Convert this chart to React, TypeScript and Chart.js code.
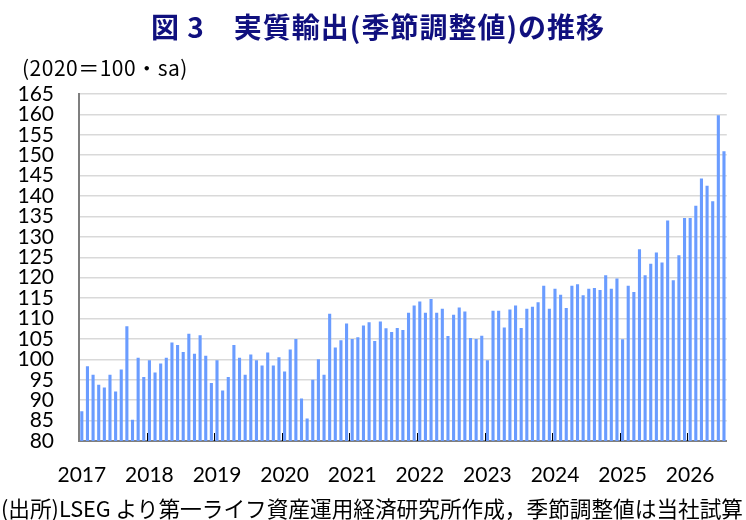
import { useEffect, useRef } from 'react';
import { Chart, registerables } from 'chart.js';

Chart.register(...registerables);

// ---- data ----
const years = ['2017', '2018', '2019', '2020', '2021', '2022', '2023', '2024', '2025', '2026'];
const v2017 = [87.3, 98.3, 96.2, 93.8, 93.1, 96.2, 92.1, 97.5, 108.1, 85.2, 100.4, 95.7];
const v2018 = [99.8, 96.8, 99.0, 100.4, 104.1, 103.5, 101.8, 106.3, 101.4, 105.9, 100.9, 94.2];
const v2019 = [99.8, 92.4, 95.7, 103.5, 100.4, 96.2, 101.2, 99.8, 98.5, 101.7, 98.5, 100.5];
const v2020 = [97.0, 102.4, 105.0, 90.4, 85.5, 95.0, 100.0, 96.2, 111.2, 102.9, 104.7, 108.8];
const v2021 = [105.0, 105.4, 108.3, 109.1, 104.5, 109.3, 107.6, 106.7, 107.7, 107.2, 111.4, 113.2];
const v2022 = [114.2, 111.4, 114.8, 111.4, 112.4, 105.7, 110.9, 112.7, 111.7, 105.2, 105.0, 105.8];
const v2023 = [99.8, 111.9, 111.9, 107.8, 112.2, 113.2, 107.7, 112.4, 112.9, 114.0, 118.0, 112.4];
const v2024 = [117.3, 115.8, 112.6, 118.0, 118.4, 115.7, 117.3, 117.5, 117.0, 120.6, 117.3, 119.8];
const v2025 = [104.9, 118.0, 116.5, 127.0, 120.6, 123.4, 126.2, 123.7, 134.0, 119.4, 125.5, 134.6];
const v2026 = [134.6, 137.6, 144.3, 142.5, 138.7, 159.8, 151.0];

const seriesByYear = [v2017, v2018, v2019, v2020, v2021, v2022, v2023, v2024, v2025, v2026];
const categories = seriesByYear.flatMap((arr, yi) =>
  arr.map((_, mi) => `${years[yi]}-${String(mi + 1).padStart(2, '0')}`)
);
const values = seriesByYear.flat();

const yMin = 80;
const yMax = 165;
const yStep = 5;

const TITLE = '図 3\u3000実質輸出(季節調整値)の推移';
const UNIT = '(2020＝100・sa)';
const SOURCE = '(出所)LSEG より第一ライフ資産運用経済研究所作成，季節調整値は当社試算';

const yearTicks = {
  id: 'yearTicks',
  afterDatasetsDraw(chart: any) {
    const xs = chart.scales.x;
    const { ctx, chartArea } = chart;
    ctx.save();
    ctx.strokeStyle = '#000000';
    ctx.lineWidth = 1;
    for (let i = 12; i < categories.length; i += 12) {
      const px = Math.round((xs.getPixelForValue(i - 1) + xs.getPixelForValue(i)) / 2) + 0.5;
      ctx.beginPath();
      ctx.moveTo(px, chartArea.bottom);
      ctx.lineTo(px, chartArea.bottom - 8);
      ctx.stroke();
    }
    ctx.restore();
  },
};

export default function App() {
  const canvasRef = useRef<HTMLCanvasElement | null>(null);
  const footRef = useRef<HTMLDivElement | null>(null);

  useEffect(() => {
    document.body.style.margin = '0';
    const foot = footRef.current;
    if (foot) {
      const w = foot.scrollWidth;
      if (w > 0) foot.style.transform = `scaleX(${742 / w})`;
    }
    const canvas = canvasRef.current;
    if (!canvas) return;
    const chart = new Chart(canvas, {
      type: 'bar',
      data: {
        labels: categories,
        datasets: [
          {
            data: values,
            backgroundColor: '#6a9cff',
            borderWidth: 0,
            barPercentage: 0.55,
            categoryPercentage: 1,
          },
        ],
      },
      plugins: [yearTicks],
      options: {
        responsive: false,
        animation: false,
        devicePixelRatio: 1,
        layout: { padding: { top: 94, right: 5, bottom: 0, left: 0 } },
        plugins: {
          legend: { display: false },
          tooltip: { enabled: false },
          title: { display: false },
        },
        scales: {
          x: {
            grid: { display: false, drawTicks: false },
            border: { display: true, color: '#7f7f7f', width: 2 },
            ticks: {
              autoSkip: false,
              maxRotation: 0,
              minRotation: 0,
              padding: 22,
              color: '#000000',
              font: { family: 'Lato', size: 21 },
              callback: (_v: any, index: number) => (index % 12 === 0 ? years[index / 12] : ''),
            },
            afterFit: (scale: any) => {
              scale.height = 79;
            },
          },
          y: {
            min: yMin,
            max: yMax,
            grid: { color: '#d9d9d9', lineWidth: 1.5, drawTicks: false },
            border: { display: true, color: '#7f7f7f', width: 2 },
            ticks: {
              stepSize: yStep,
              autoSkip: false,
              padding: 25,
              color: '#000000',
              font: { family: 'Lato', size: 21 },
            },
            afterFit: (scale: any) => {
              scale.width = 79;
            },
          },
        },
      },
    });
    return () => chart.destroy();
  }, []);

  return (
    <div style={{ position: 'relative', width: 746, height: 520, overflow: 'hidden', background: '#ffffff' }}>
      <canvas ref={canvasRef} width={746} height={520} style={{ position: 'absolute', left: 0, top: 0 }} />
      <div
        style={{
          position: 'absolute',
          left: 5,
          width: 746,
          top: 10,
          textAlign: 'center',
          fontFamily: '"Noto Sans CJK JP", sans-serif',
          fontWeight: 700,
          fontSize: 28,
          letterSpacing: 1,
          lineHeight: '32px',
          color: '#10107e',
          whiteSpace: 'pre',
        }}
      >
        {TITLE}
      </div>
      <div
        style={{
          position: 'absolute',
          left: 22,
          top: 55,
          fontFamily: '"Noto Sans CJK JP", sans-serif',
          fontSize: 21,
          letterSpacing: 0.5,
          lineHeight: '25px',
          color: '#000000',
          whiteSpace: 'pre',
        }}
      >
        {UNIT}
      </div>
      <div
        ref={footRef}
        style={{
          position: 'absolute',
          left: 1,
          top: 494,
          fontFamily: '"Noto Sans CJK JP", sans-serif',
          fontSize: 22,
          lineHeight: '26px',
          color: '#000000',
          whiteSpace: 'pre',
          transformOrigin: '0 0',
          display: 'inline-block',
        }}
      >
        {SOURCE}
      </div>
    </div>
  );
}
